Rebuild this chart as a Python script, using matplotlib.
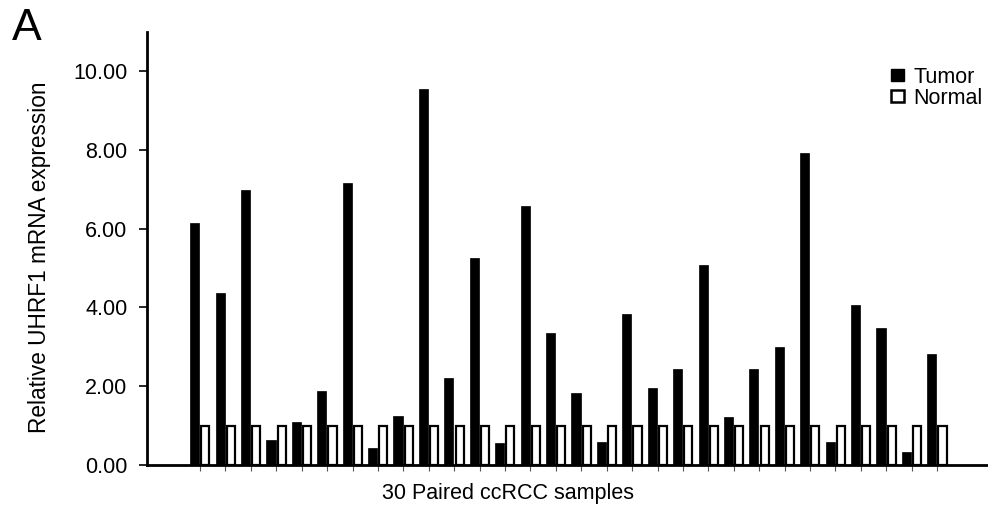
import matplotlib
matplotlib.use("Agg")
import matplotlib.pyplot as plt
import numpy as np
from matplotlib.patches import Patch

plt.rcParams['font.family'] = ['Liberation Sans', 'DejaVu Sans']

samples = list(range(1, 31))
tumor = [6.15, 4.37, 6.97, 0.64, 1.08, 1.89, 7.16, 0.44, 1.24, 9.55,
         2.21, 5.25, 0.55, 6.57, 3.34, 1.84, 0.59, 3.83, 1.96, 2.44,
         5.08, 1.21, 2.44, 3.00, 7.93, 0.58, 4.06, 3.47, 0.32, 2.82]
normal = [1.0] * 30
yticks = [0, 2, 4, 6, 8, 10]
ytick_labels = ["0.00", "2.00", "4.00", "6.00", "8.00", "10.00"]

W, H = 988, 509
fig = plt.figure(figsize=(W / 100, H / 100), dpi=100)
ax = fig.add_axes([146.7 / W, (H - 465) / H, (W - 146.7) / W, (465 - 31.7) / H])

x = np.arange(len(samples))
w = 0.36
ax.bar(x - 0.21, tumor, width=w, color='black', edgecolor='black', linewidth=0.5)
ax.bar(x + 0.21, normal, width=w - 0.04, color='white', edgecolor='black', linewidth=1.6)

ax.set_xlim(-2.1, 31.0)
ax.set_ylim(0, 11)
ax.set_yticks(yticks)
ax.set_yticklabels(ytick_labels, fontsize=15.5)
ax.set_xticks(x)
ax.set_xticklabels([])
ax.tick_params(axis='x', length=4, width=0.8, direction='out', color='#555555')
ax.tick_params(axis='y', length=6, width=1.2, direction='out', pad=8)

for s in ['top', 'right']:
    ax.spines[s].set_visible(False)
for s in ['left', 'bottom']:
    ax.spines[s].set_linewidth(2)

ax.set_ylabel("Relative UHRF1 mRNA expression", fontsize=16.3)
ax.yaxis.label.set_va('center')
ax.yaxis.set_label_coords((40 - 146.7) / (W - 146.7), (465 - 257.5) / (465 - 31.7))

ax.set_xlabel("30 Paired ccRCC samples", fontsize=15.5)
ax.xaxis.label.set_va('baseline')
ax.xaxis.set_label_coords((507.5 - 146.7) / (W - 146.7), (465 - 499) / (465 - 31.7))

handles = [Patch(facecolor='black', edgecolor='black', label='Tumor'),
           Patch(facecolor='white', edgecolor='black', linewidth=1.8, label='Normal')]
ax.legend(handles=handles, loc='upper left', bbox_to_anchor=(891 / W, 1 - 67 / H),
          bbox_transform=fig.transFigure, frameon=False,
          fontsize=15.5, handlelength=0.6, handleheight=0.5, handletextpad=0.45,
          labelspacing=0.0, borderpad=0, borderaxespad=0)

fig.text(12 / W, 1 - 40 / H, "A", fontsize=32, va='baseline')

fig.savefig("out.png", dpi=100)
